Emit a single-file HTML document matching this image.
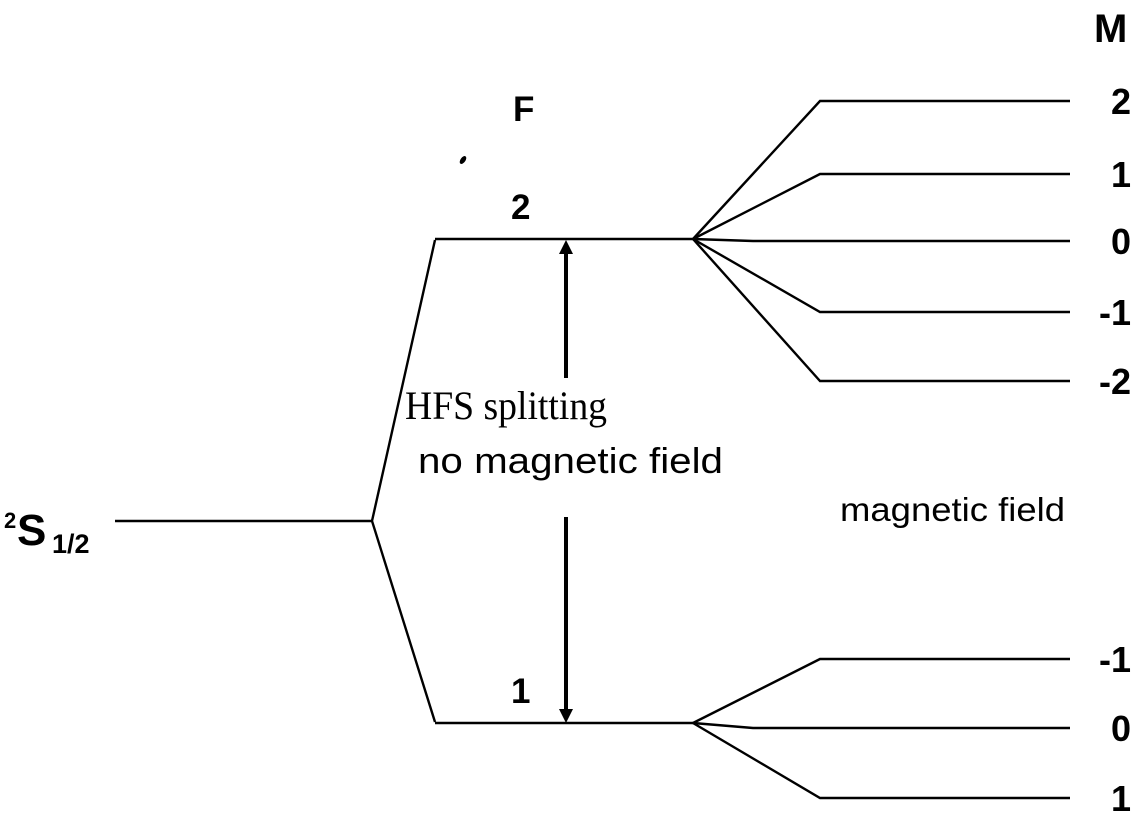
<!DOCTYPE html>
<html><head><meta charset="utf-8"><style>
html,body{margin:0;padding:0;background:#fff;width:1141px;height:829px;overflow:hidden}
svg{display:block}
.b{font-family:"Liberation Sans",Arial,sans-serif;font-weight:bold;fill:#000}
</style></head><body>
<svg id="c" width="1141" height="829" viewBox="0 0 1141 829">
<g stroke="#000" stroke-width="2.4" fill="none">
<line x1="115" y1="521" x2="372" y2="521"/>
<polyline points="435,240 372,521 435,722"/>
<line x1="435" y1="239" x2="693" y2="239"/>
<line x1="435" y1="723" x2="693" y2="723"/>
</g>
<g id="zee" stroke="#000" stroke-width="2.4" fill="none"></g>
<g>
<line x1="566" y1="252" x2="566" y2="378" stroke="#000" stroke-width="4"/>
<polygon points="566,240 559,254 573,254" fill="#000"/>
<line x1="566" y1="517" x2="566" y2="710" stroke="#000" stroke-width="4"/>
<polygon points="566,723 559,709 573,709" fill="#000"/>
</g>
<ellipse cx="463" cy="160" rx="2.5" ry="4.5" transform="rotate(35 463 160)" fill="#000"/>
<text class="b" x="1094" y="42" font-size="40">M</text>
<text class="b" x="513" y="121" font-size="35">F</text>
<text class="b" x="511" y="219" font-size="35">2</text>
<text class="b" x="511" y="703" font-size="35">1</text>
<text x="405" y="419" font-size="40" font-family="'Liberation Serif',serif" textLength="202" lengthAdjust="spacingAndGlyphs">HFS splitting</text>
<text x="418" y="473" font-size="36" font-family="'Liberation Sans',sans-serif" textLength="305" lengthAdjust="spacingAndGlyphs">no magnetic field</text>
<text x="840" y="521" font-size="33" font-family="'Liberation Sans',sans-serif" textLength="225" lengthAdjust="spacingAndGlyphs">magnetic field</text>
<g>
<text class="b" x="4" y="528" font-size="22">2</text>
<text class="b" x="17" y="545" font-size="44">S</text>
<text class="b" x="52" y="553" font-size="27">1/2</text>
</g>
<g id="mlab"></g>
</svg>
<script>
const upperM = ["2","1","0","-1","-2"];
const upperY = [101,174,241,312,381];
const lowerM = ["-1","0","1"];
const lowerY = [659,728,798];
const ns="http://www.w3.org/2000/svg";
const zee=document.getElementById('zee'), mlab=document.getElementById('mlab');
function fan(ox,oy,ms,ys){
  ms.forEach((m,i)=>{
    const y=ys[i];
    const p=document.createElementNS(ns,'polyline');
    const bend = Math.abs(y-oy)<10 ? ox+60 : 820;
    p.setAttribute('points',ox+','+oy+' '+bend+','+y+' 1070,'+y);
    
    
    zee.appendChild(p);
    const t=document.createElementNS(ns,'text');
    t.setAttribute('class','b');t.setAttribute('font-size','36');
    t.setAttribute('x','1131');t.setAttribute('y',y+13);t.setAttribute('text-anchor','end');
    t.textContent=m;
    
    
    mlab.appendChild(t);
  });
}
fan(693,239,upperM,upperY);
fan(693,723,lowerM,lowerY);
</script>
</body></html>
